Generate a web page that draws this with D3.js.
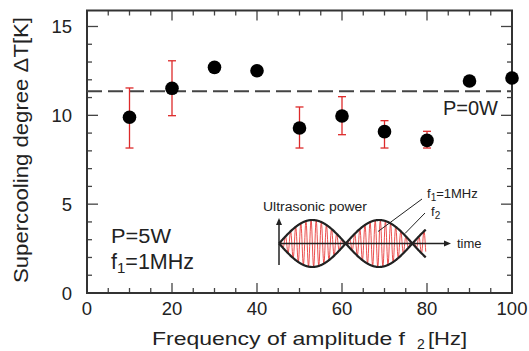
<!DOCTYPE html>
<html>
<head>
<meta charset="utf-8">
<script src="https://cdn.jsdelivr.net/npm/d3@7"></script>
<style>
  body { margin: 0; background: #fff; }
  text { font-family: "Liberation Sans", Arial, sans-serif; fill: #222; }
</style>
</head>
<body>
<div id="chart"></div>
<script>
// amplitude frequency f2 [Hz]
const freqs = [10, 20, 30, 40, 50, 60, 70, 80, 90, 100];
// supercooling degree [K]
const dT = [9.89, 11.52, 12.70, 12.51, 9.29, 9.96, 9.08, 8.59, 11.93, 12.10];
// error bars (null = no bar)
const errHi = [11.54, 13.07, null, null, 10.47, 11.05, 9.70, 9.10, null, null];
const errLo = [8.16, 9.98, null, null, 8.16, 8.91, 8.16, 8.16, null, null];
const baselineP0 = 11.35;
const xTicks = [0, 20, 40, 60, 80, 100];
const yTicks = [0, 5, 10, 15];

const W = 529, H = 351;
const svg = d3.select('#chart').append('svg').attr('width', W).attr('height', H);

const x = d3.scaleLinear().domain([0, 100]).range([87, 512]);
const y = d3.scaleLinear().domain([0, 15.9]).range([293, 10.5]);

const axisColor = '#333';

// ticks (all pointing inward)
const xMinor = d3.range(0, 101, 5).filter(v => v % 20 !== 0);
const yMinor = d3.range(0, 16, 1).filter(v => v % 5 !== 0);

function tickLines(g, vals, len, orient) {
  vals.forEach(v => {
    if (orient === 'bottom') g.append('line').attr('x1', x(v)).attr('x2', x(v)).attr('y1', y(0)).attr('y2', y(0) - len);
    if (orient === 'top') g.append('line').attr('x1', x(v)).attr('x2', x(v)).attr('y1', y.range()[1]).attr('y2', y.range()[1] + len);
    if (orient === 'left') g.append('line').attr('y1', y(v)).attr('y2', y(v)).attr('x1', x(0)).attr('x2', x(0) + len);
    if (orient === 'right') g.append('line').attr('y1', y(v)).attr('y2', y(v)).attr('x1', x(100)).attr('x2', x(100) - len);
  });
}
const tg = svg.append('g').attr('stroke', '#444').attr('stroke-width', 1.3);
['bottom', 'top'].forEach(o => { tickLines(tg, xTicks, 10, o); tickLines(tg, xMinor, 5, o); });
['left', 'right'].forEach(o => { tickLines(tg, yTicks, 11, o); tickLines(tg, yMinor, 5, o); });

// frame
svg.append('rect')
  .attr('x', x(0)).attr('y', y.range()[1])
  .attr('width', x(100) - x(0)).attr('height', y(0) - y.range()[1])
  .attr('fill', 'none').attr('stroke', axisColor).attr('stroke-width', 2);

// tick labels
svg.append('g').selectAll('text').data(xTicks).join('text')
  .attr('x', d => x(d)).attr('y', 315)
  .attr('text-anchor', 'middle').attr('font-size', 18.5)
  .text(d => d);
svg.append('g').selectAll('text').data(yTicks).join('text')
  .attr('x', 72).attr('y', d => y(d) + 6.5)
  .attr('text-anchor', 'end').attr('font-size', 18.5)
  .text(d => d);

// axis titles
svg.append('text')
  .attr('transform', 'translate(28,150) rotate(-90)')
  .attr('text-anchor', 'middle').attr('font-size', 20)
  .attr('textLength', 266).attr('lengthAdjust', 'spacingAndGlyphs')
  .text('Supercooling degree ΔT[K]');

const xt = svg.append('g');
xt.append('text').attr('x', 152).attr('y', 345).attr('font-size', 19)
  .attr('textLength', 253).attr('lengthAdjust', 'spacingAndGlyphs')
  .text('Frequency of amplitude f');
xt.append('text').attr('x', 417).attr('y', 349).attr('font-size', 14).text('2');
xt.append('text').attr('x', 428).attr('y', 345).attr('font-size', 19)
  .attr('textLength', 39).attr('lengthAdjust', 'spacingAndGlyphs').text('[Hz]');

// P=0W dashed reference
svg.append('line')
  .attr('x1', x(0)).attr('x2', x(100))
  .attr('y1', y(baselineP0)).attr('y2', y(baselineP0))
  .attr('stroke', '#444').attr('stroke-width', 2)
  .attr('stroke-dasharray', '15,6');
svg.append('text').attr('x', 498).attr('y', 115)
  .attr('text-anchor', 'end').attr('font-size', 20).text('P=0W');

// error bars
const eb = svg.append('g').attr('stroke', '#dd2a2a').attr('stroke-width', 1.3);
freqs.forEach((f, i) => {
  if (errHi[i] == null) return;
  const cx = x(f);
  eb.append('line').attr('x1', cx).attr('x2', cx).attr('y1', y(errHi[i])).attr('y2', y(errLo[i]));
  [errHi[i], errLo[i]].forEach(v => {
    eb.append('line').attr('x1', cx - 4).attr('x2', cx + 4).attr('y1', y(v)).attr('y2', y(v));
  });
});

// points
svg.append('g').selectAll('circle').data(freqs).join('circle')
  .attr('cx', d => x(d)).attr('cy', (d, i) => y(dT[i]))
  .attr('r', 6.8).attr('fill', '#000');

// annotations
svg.append('text').attr('x', 111).attr('y', 243).attr('font-size', 20)
  .attr('textLength', 60).attr('lengthAdjust', 'spacingAndGlyphs').text('P=5W');
const f1t = svg.append('text').attr('x', 111).attr('y', 269).attr('font-size', 21.5);
f1t.append('tspan').text('f');
f1t.append('tspan').attr('font-size', 15).attr('dy', 4).text('1');
f1t.append('tspan').attr('dy', -4).text('=1MHz');

// inset: ultrasonic power waveform (schematic)
const insetSpan = [0, 2.2];          // envelope half-periods shown
const carrierPerLobe = 13;           // carrier cycles drawn per envelope lobe
const xi = d3.scaleLinear().domain([0, 1]).range([279, 345.7]);
const yi = d3.scaleLinear().domain([-1, 1]).range([267, 220]);
const ins = svg.append('g');

const ts = d3.range(insetSpan[0], insetSpan[1] + 1e-9, 0.004);
const carrier = d3.line().x(t => xi(t)).y(t => yi(Math.sin(Math.PI * t) * Math.sin(2 * Math.PI * carrierPerLobe * t)));
ins.append('path').attr('d', carrier(ts))
  .attr('fill', 'none').attr('stroke', '#e8302f').attr('stroke-width', 1).attr('opacity', 0.85);

[1, -1].forEach(s => {
  const env = d3.line().x(t => xi(t)).y(t => yi(s * Math.sin(Math.PI * t)));
  ins.append('path').attr('d', env(ts))
    .attr('fill', 'none').attr('stroke', '#222').attr('stroke-width', 2.2);
});

// inset axes with arrows
const ax = ins.append('g').attr('stroke', '#222').attr('stroke-width', 1.5);
ax.append('line').attr('x1', xi(0)).attr('x2', xi(0)).attr('y1', 265).attr('y2', 224);
ax.append('line').attr('x1', xi(0)).attr('x2', 446).attr('y1', yi(0)).attr('y2', yi(0));
ins.append('path').attr('d', `M${xi(0) - 3},${225} L${xi(0)},${218} L${xi(0) + 3},${225} Z`).attr('fill', '#222');
ins.append('path').attr('d', `M444,${yi(0) - 3} L451,${yi(0)} L444,${yi(0) + 3} Z`).attr('fill', '#222');

ins.append('text').attr('x', 263).attr('y', 211).attr('font-size', 12.5)
  .attr('textLength', 104).attr('lengthAdjust', 'spacingAndGlyphs').text('Ultrasonic power');
ins.append('text').attr('x', 457).attr('y', 247.5).attr('font-size', 13).text('time');

const lab1 = ins.append('text').attr('x', 427).attr('y', 198).attr('font-size', 13);
lab1.append('tspan').text('f');
lab1.append('tspan').attr('font-size', 10).attr('dy', 3).text('1');
lab1.append('tspan').attr('dy', -3).text('=1MHz');
const lab2 = ins.append('text').attr('x', 431).attr('y', 216).attr('font-size', 13);
lab2.append('tspan').text('f');
lab2.append('tspan').attr('font-size', 10).attr('dy', 3).text('2');

const ld = ins.append('g').attr('stroke', '#222').attr('stroke-width', 1);
ld.append('line').attr('x1', 422).attr('y1', 199).attr('x2', 378).attr('y2', 231.5);
ld.append('line').attr('x1', 425).attr('y1', 213).attr('x2', 405).attr('y2', 233.5);
</script>
</body>
</html>
